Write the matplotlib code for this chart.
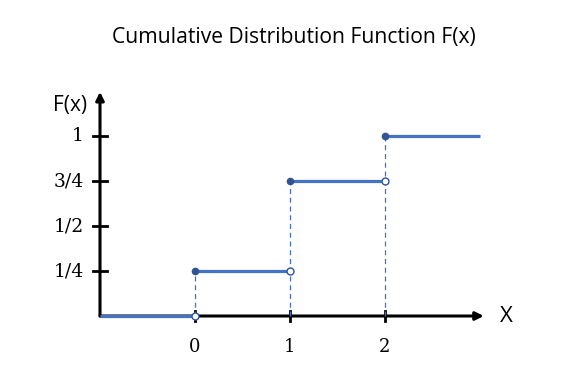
import matplotlib.pyplot as plt

# step function data
seg_x0 = [-1, 0, 1, 2]
seg_x1 = [0, 1, 2, 3]
seg_y = [0, 0.25, 0.75, 1.0]
jump_x = [0, 1, 2]
jump_lo = [0, 0.25, 0.75]
jump_hi = [0.25, 0.75, 1.0]
xticks = [0, 1, 2]
xtick_labels = ['0', '1', '2']
yticks = [0.25, 0.5, 0.75, 1.0]
ytick_labels = ['1/4', '1/2', '3/4', '1']

blue = '#4472C4'
serif = ['DejaVu Serif']

fig = plt.figure(figsize=(5.67, 3.78), dpi=100)
ax = fig.add_axes([0, 0, 1, 1])
ax.set_xlim(-2.0526, 3.9158)
ax.set_ylim(-0.3444, 1.7556)
ax.axis('off')

# axes with arrows
ax.annotate('', xy=(3.04, 0), xytext=(-1, 0),
            arrowprops=dict(arrowstyle='-|>', color='black', lw=2.2,
                            mutation_scale=12, shrinkA=0, shrinkB=0))
ax.annotate('', xy=(-1, 1.245), xytext=(-1, 0),
            arrowprops=dict(arrowstyle='-|>', color='black', lw=2.2,
                            mutation_scale=12, shrinkA=0, shrinkB=0))

# ticks
for x, lab in zip(xticks, xtick_labels):
    ax.plot([x, x], [-0.028, 0.028], color='black', lw=2)
    ax.text(x, -0.17, lab, ha='center', va='center', fontsize=13, family=serif)
for y, lab in zip(yticks, ytick_labels):
    ax.plot([-1.07, -0.93], [y, y], color='black', lw=2)
    ax.text(-1.17, y, lab, ha='right', va='center', fontsize=13.5, family=serif)

ax.text(-1.31, 1.17, 'F(x)', ha='center', va='center', fontsize=15, family='Open Sans')
ax.text(3.28, -0.005, 'X', ha='center', va='center', fontsize=16, family='Open Sans')

# dashed jump lines
for x, y in zip(jump_x, jump_hi):
    ax.plot([x, x], [0, y], color=blue, lw=0.9, ls=(0, (4, 3)), zorder=4)

# horizontal steps
for x0, x1, y in zip(seg_x0, seg_x1, seg_y):
    ax.plot([x0, x1], [y, y], color=blue, lw=2.3, solid_capstyle='butt', zorder=4)

ax.plot(jump_x, jump_hi, 'o', color='#2F5597', ms=4.5, zorder=5)
ax.plot(jump_x, jump_lo, 'o', mfc='white', mec='#2F5597', mew=1, ms=5, zorder=5)

fig.text(0.518, 0.9, 'Cumulative Distribution Function F(x)', ha='center', va='center',
         fontsize=15.2, family='Open Sans')

fig.savefig('out.png', dpi=100)
